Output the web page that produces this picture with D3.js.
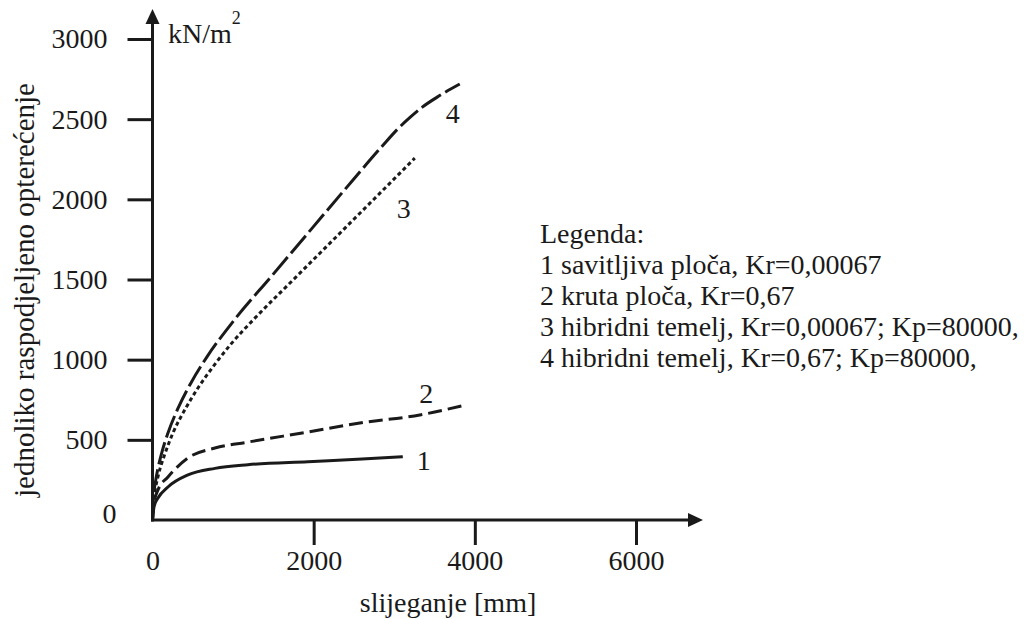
<!DOCTYPE html>
<html><head><meta charset="utf-8">
<script src="https://cdn.jsdelivr.net/npm/d3@7"></script>
</head>
<body style="margin:0;padding:0;background:#fff">
<svg id="chart" width="1034" height="619" style="display:block"></svg>
<script>
// ---- data (settlement [mm], load [kN/m2]) ----
const xTicks = [0, 2000, 4000, 6000];
const yTicks = [0, 500, 1000, 1500, 2000, 2500, 3000];
const curve1 = [[0,0],[20,85],[68,137],[192,206],[440,281],[775,322],[1184,345],[1928,364],[2600,380],[3106,394]];
const curve2 = [[0,0],[20,110],[68,187],[192,268],[440,387],[775,449],[1184,486],[1928,549],[2573,605],[3317,655],[3856,714]];
const curve3 = [[0,0],[12,112],[37,197],[74,283],[149,405],[254,543],[397,684],[564,823],[769,968],[992,1108],[1240,1243],[1736,1493],[2232,1742],[2728,1991],[3255,2257]];
const curve4 = [[0,0],[12,138],[37,239],[68,323],[124,436],[192,543],[316,696],[477,855],[682,1022],[992,1233],[1488,1527],[1984,1822],[2480,2116],[2852,2333],[3038,2436],[3199,2512],[3348,2575],[3528,2636],[3813,2719]];
const curveNames = ["1","2","3","4"];
const legendTitle = "Legenda:";
const legendLines = [
  "1 savitljiva ploča, Kr=0,00067",
  "2 kruta ploča, Kr=0,67",
  "3 hibridni temelj, Kr=0,00067; Kp=80000,",
  "4 hibridni temelj, Kr=0,67; Kp=80000,"
];
const xTitle = "slijeganje [mm]";
const yTitle = "jednoliko raspodjeljeno opterećenje";
const yUnit = "kN/m";

// ---- layout ----
const FONT = "Liberation Serif";
const FS = 28;
const ink = "#1a1a1a";
const svg = d3.select("#chart").style("font-family", FONT);
const T = (sel) => sel.style("font-family", FONT).style("fill", ink);
const x = d3.scaleLinear().domain([0, 6000]).range([152.5, 636]);
const y = d3.scaleLinear().domain([0, 3000]).range([520, 39]);

// y axis
const yAxis = d3.axisLeft(y).tickValues(yTicks).tickSize(25).tickPadding(20).tickFormat(d3.format("d"));
const gy = svg.append("g").attr("transform", `translate(${x(0)},0)`).call(yAxis);
gy.select(".domain").remove();
gy.selectAll(".tick line").attr("stroke", ink).attr("stroke-width", 3);
T(gy.selectAll(".tick text")).style("font-size", FS + "px");
gy.selectAll(".tick").filter(d => d === 0).select("line").remove();
gy.selectAll(".tick").filter(d => d === 0).select("text").attr("x", -36).attr("dy", "0.1em");

// x axis
const xAxis = d3.axisBottom(x).tickValues(xTicks).tickSize(25).tickPadding(5).tickFormat(d3.format("d"));
const gx = svg.append("g").attr("transform", `translate(0,${y(0)})`).call(xAxis);
gx.select(".domain").remove();
gx.selectAll(".tick line").attr("stroke", ink).attr("stroke-width", 3);
T(gx.selectAll(".tick text")).style("font-size", FS + "px");
gx.selectAll(".tick").filter(d => d === 0).select("line").remove();

// axis lines with arrows
svg.append("line").attr("x1", x(0)).attr("y1", y(0) + 1.5).attr("x2", x(0)).attr("y2", 20)
  .attr("stroke", ink).attr("stroke-width", 3);
svg.append("path").attr("d", `M${x(0)},9 L${x(0)-7},24 L${x(0)+7},24 Z`).attr("fill", ink);
svg.append("line").attr("x1", x(0) - 1.5).attr("y1", y(0)).attr("x2", 692).attr("y2", y(0))
  .attr("stroke", ink).attr("stroke-width", 3);
svg.append("path").attr("d", `M703,${y(0)} L688,${y(0)-7} L688,${y(0)+7} Z`).attr("fill", ink);

// unit label
const unit = T(svg.append("text").attr("x", 168).attr("y", 43).style("font-size", FS + "px"));
unit.append("tspan").text(yUnit);
unit.append("tspan").style("font-size", "18px").attr("dy", -19).text("2");

// titles
T(svg.append("text").attr("x", 448).attr("y", 612).attr("text-anchor", "middle").style("font-size", FS + "px")).text(xTitle);
T(svg.append("text").attr("transform", "translate(34,290) rotate(-90)").attr("text-anchor", "middle")
  .style("font-size", "29px")).text(yTitle);

// curves
const line = d3.line().x(d => x(d[0])).y(d => y(d[1])).curve(d3.curveMonotoneX);
const series = [
  {data: curve1, dash: null, off: [14, 13]},
  {data: curve2, dash: "14,6", off: [-44, -3]},
  {data: curve3, dash: "4,3", off: [-18, 60]},
  {data: curve4, dash: "23,5", off: [-14, 39]}
];
series.forEach((s, i) => {
  svg.append("path").attr("d", line(s.data)).attr("fill", "none").attr("stroke", ink)
    .attr("stroke-width", 3).attr("stroke-dasharray", s.dash);
  const last = s.data[s.data.length - 1];
  T(svg.append("text").attr("x", x(last[0]) + s.off[0]).attr("y", y(last[1]) + s.off[1])
    .style("font-size", FS + "px")).text(curveNames[i]);
});

// legend
const lg = svg.append("g").attr("transform", "translate(540,0)");
T(lg.append("text").attr("x", 0).attr("y", 243).style("font-size", FS + "px")).text(legendTitle);
legendLines.forEach((t, i) => {
  T(lg.append("text").attr("x", 0).attr("y", 274 + i * 31).style("font-size", FS + "px")).text(t);
});
</script>
</body></html>
